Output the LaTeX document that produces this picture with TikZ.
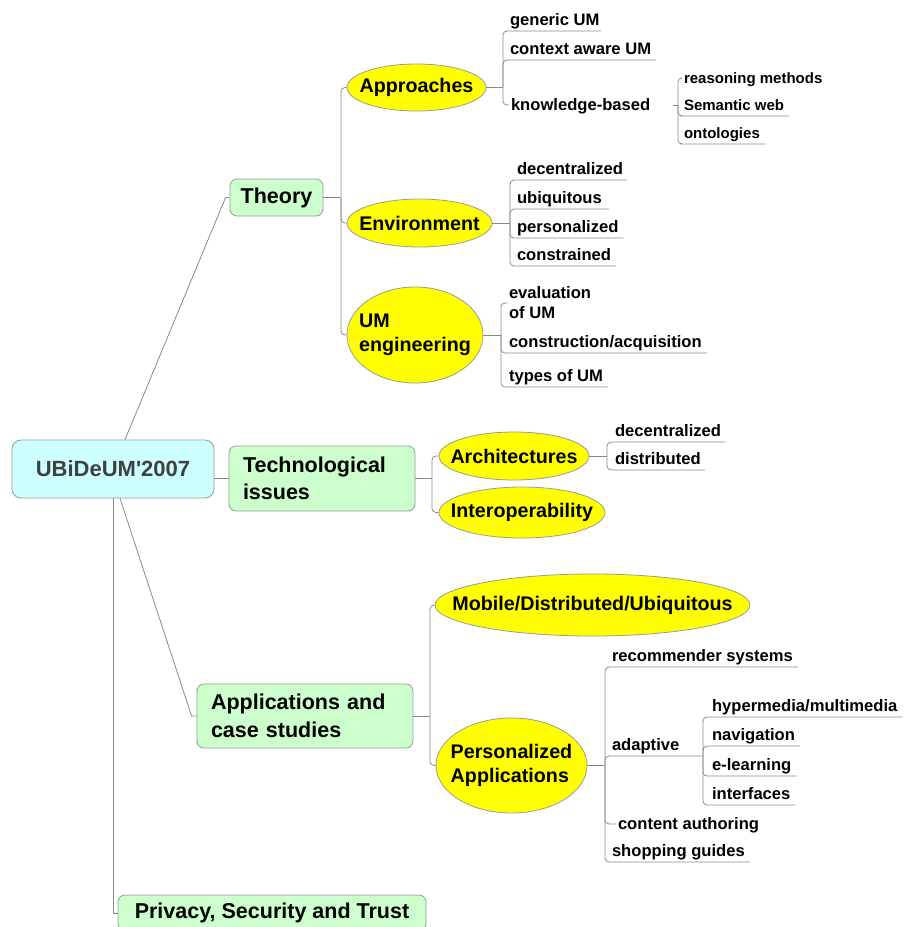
\documentclass[tikz,border=0pt]{standalone}
\usepackage{fontspec}
\setmainfont{Liberation Sans}[Ligatures=TeXOff]
\usetikzlibrary{shapes.geometric}
\definecolor{lnc}{HTML}{8A8A8A}
\definecolor{bdc}{HTML}{9A9A9A}
\definecolor{rootfill}{HTML}{CCFFFF}
\definecolor{topfill}{HTML}{CCFFCC}
\definecolor{ellfill}{HTML}{FFFF00}
\definecolor{roottxt}{HTML}{404040}
\newcommand\fsz[2]{\fontsize{#1}{#2}\selectfont\bfseries}
\begin{document}
\begin{tikzpicture}[x=1pt,y=-1pt,
 conn/.style={draw=lnc, line width=0.8pt},
 trunk/.style={conn, rounded corners=4pt},
 rootbox/.style={draw=bdc, fill=rootfill, rounded corners=9pt, line width=0.8pt, text=roottxt, font=\fsz{22}{26}, minimum width=202pt, minimum height=58pt, inner sep=0pt},
 topbox/.style={draw=bdc, fill=topfill, rounded corners=7pt, line width=0.8pt, font=\fsz{21.5}{27.5}, inner sep=0pt},
 ell/.style={ellipse, draw=bdc, fill=ellfill, line width=0.8pt, font=\fsz{19.7}{24}, inner sep=0pt},
 leaf/.style={font=\fsz{16.6}{20}, inner sep=0pt, outer sep=0pt, text height=12pt, text depth=6pt, anchor=south west},
 smleaf/.style={leaf, font=\fsz{15}{18}},
 midleaf/.style={font=\fsz{16.6}{20}, inner xsep=2pt, inner ysep=0pt, outer sep=0pt, text height=13pt, text depth=3pt, anchor=base west},
 twoleaf/.style={font=\fsz{16.6}{20}, inner xsep=2pt, inner ysep=0pt, outer sep=0pt, align=left, anchor=west}
]
\useasboundingbox (0,0) rectangle (903,927);

% ---- main nodes
\node[rootbox] (root) at (113,469) {UBiDeUM'2007};
\node[topbox, minimum width=93pt, minimum height=37pt] (theory) at (276.5,197.5) {Theory};
\node[topbox, minimum width=186pt, minimum height=65pt, text width=158pt, align=left] (tech) at (322,478.5) {Technological\\issues};
\node[topbox, minimum width=216pt, minimum height=64pt, text width=188pt, align=left] (apps) at (305,716) {Applications and\\case studies};
\node[topbox, minimum width=308pt, minimum height=36pt] (priv) at (272,913) {Privacy, Security and Trust};

% ---- ellipses
\node[ell, minimum width=139pt, minimum height=47pt] (app) at (416.5,87.5) {\makebox[0pt]{Approaches}};
\node[ell, minimum width=145pt, minimum height=48pt] (env) at (419.5,223) {\makebox[0pt]{Environment}};
\node[ell, minimum width=136pt, minimum height=96pt] (umeng) at (415,335) {\makebox[0pt]{\begin{tabular}{@{}l@{}}UM\\engineering\end{tabular}}};
\node[ell, minimum width=150pt, minimum height=48pt] (arch) at (514,456) {\makebox[0pt]{Architectures}};
\node[ell, minimum width=166pt, minimum height=51pt] (interop) at (522,512.5) {\makebox[0pt]{Interoperability}};
\node[ell, minimum width=315pt, minimum height=62pt] (mob) at (592.5,605) {\makebox[0pt]{Mobile/Distributed/Ubiquitous}};
\node[ell, minimum width=151pt, minimum height=95pt] (pers) at (511.5,765.5) {\makebox[0pt]{\begin{tabular}{@{}l@{}}Personalized\\Applications\end{tabular}}};

% ---- junctions
\coordinate (jT) at (341,197.5);
\coordinate (jA) at (503,87.5);
\coordinate (jK) at (678,105);
\coordinate (jE) at (510,223);
\coordinate (jU) at (501,335);
\coordinate (jTe) at (432,478.5);
\coordinate (jAr) at (607,456);
\coordinate (jAp) at (430,716);
\coordinate (jP) at (605,765.5);
\coordinate (jAd) at (703,756);

% ---- leaves
\node[leaf] (gen) at (510,31) {generic UM};
\node[leaf] (ctx) at (510,60) {context aware UM};
\node[midleaf] (kb) at (509,110) {knowledge-based};
\node[midleaf, font=\fsz{15}{18}] (rm) at (682,83) {reasoning methods};
\node[smleaf] (sw) at (684,116) {Semantic web};
\node[smleaf] (ont) at (684,144) {ontologies};

\node[leaf] (dec) at (517,180) {decentralized};
\node[leaf] (ubi) at (517,209) {ubiquitous};
\node[leaf] (per) at (517,238) {personalized};
\node[leaf] (cons) at (517,266) {constrained};

\node[twoleaf] (eval) at (507,303) {evaluation\\of UM};
\node[leaf] (acq) at (509,353) {construction/acquisition};
\node[leaf] (typ) at (509,387) {types of UM};

\node[leaf] (dec2) at (615,442) {decentralized};
\node[leaf] (dist) at (615,470) {distributed};

\node[leaf] (rec) at (612,667) {recommender systems};
\node[leaf] (adp) at (612,756) {adaptive};
\node[midleaf] (cont) at (616,829) {content authoring};
\node[leaf] (shop) at (612,862) {shopping guides};

\node[leaf] (hyp) at (712,717) {hypermedia/multimedia};
\node[leaf] (nav) at (712,746) {navigation};
\node[leaf] (elr) at (712,776) {e-learning};
\node[leaf] (intf) at (712,805) {interfaces};

% ---- root connectors
\draw[conn] ([xshift=12pt]root.north) -- ([xshift=-4pt]theory.west) -- (theory.west);
\draw[conn] (root.east |- tech.west) -- (tech.west);
\draw[conn] ([xshift=7pt]root.south) -- ([xshift=-5pt]apps.west) -- (apps.west);
\draw[conn] (root.south) |- (priv.west);

% ---- theory
\draw[conn] (theory.east) -- (jT);
\draw[trunk] (jT) |- (app.west);
\draw[trunk] (jT) |- (env.west);
\draw[trunk] (jT) |- (umeng.west);

\draw[conn] (app.east) -- (jA);
\draw[trunk] (jA) |- (gen.south west) -- ([xshift=2pt]gen.south east);
\draw[trunk] (jA) |- (ctx.south west) -- ([xshift=5pt]ctx.south east);
\draw[trunk] (jA) |- (kb.west);
\draw[conn] ([xshift=-5pt]jK) -- (jK);
\draw[trunk] (jK) |- (rm.west);
\draw[trunk] (jK) |- (sw.south west) -- ([xshift=5pt]sw.south east);
\draw[trunk] (jK) |- (ont.south west) -- ([xshift=5pt]ont.south east);

\draw[conn] (env.east) -- (jE);
\draw[trunk] (jE) |- (dec.south west) -- ([xshift=4pt]dec.south east);
\draw[trunk] (jE) |- (ubi.south west) -- ([xshift=7pt]ubi.south east);
\draw[trunk] (jE) |- (per.south west) -- ([xshift=5pt]per.south east);
\draw[trunk] (jE) |- (cons.south west) -- ([xshift=5pt]cons.south east);

\draw[conn] (umeng.east) -- (jU);
\draw[trunk] (jU) |- (eval.west);
\draw[trunk] (jU) |- (acq.south west) -- ([xshift=5pt]acq.south east);
\draw[trunk] (jU) |- (typ.south west) -- ([xshift=5pt]typ.south east);

% ---- technological issues
\draw[conn] (tech.east) -- (jTe);
\draw[trunk] (jTe) |- (arch.west);
\draw[trunk] (jTe) |- (interop.west);
\draw[conn] (arch.east) -- (jAr);
\draw[trunk] (jAr) |- (dec2.south west) -- ([xshift=4pt]dec2.south east);
\draw[trunk] (jAr) |- (dist.south west) -- ([xshift=4pt]dist.south east);

% ---- applications
\draw[conn] (apps.east) -- (jAp);
\draw[trunk] (jAp) |- (mob.west);
\draw[trunk] (jAp) |- (pers.west);
\draw[conn] (pers.east) -- (jP);
\draw[trunk] (jP) |- (rec.south west) -- ([xshift=5pt]rec.south east);
\draw[trunk] (jP) |- (adp.south west) -- (jAd);
\draw[trunk] (jP) |- (cont.west);
\draw[trunk] (jP) |- (shop.south west) -- ([xshift=5pt]shop.south east);
\draw[trunk] (jAd) |- (hyp.south west) -- ([xshift=5pt]hyp.south east);
\draw[trunk] (jAd) |- (nav.south west) -- ([xshift=5pt]nav.south east);
\draw[trunk] (jAd) |- (elr.south west) -- ([xshift=5pt]elr.south east);
\draw[trunk] (jAd) |- (intf.south west) -- ([xshift=5pt]intf.south east);
\end{tikzpicture}
\end{document}
